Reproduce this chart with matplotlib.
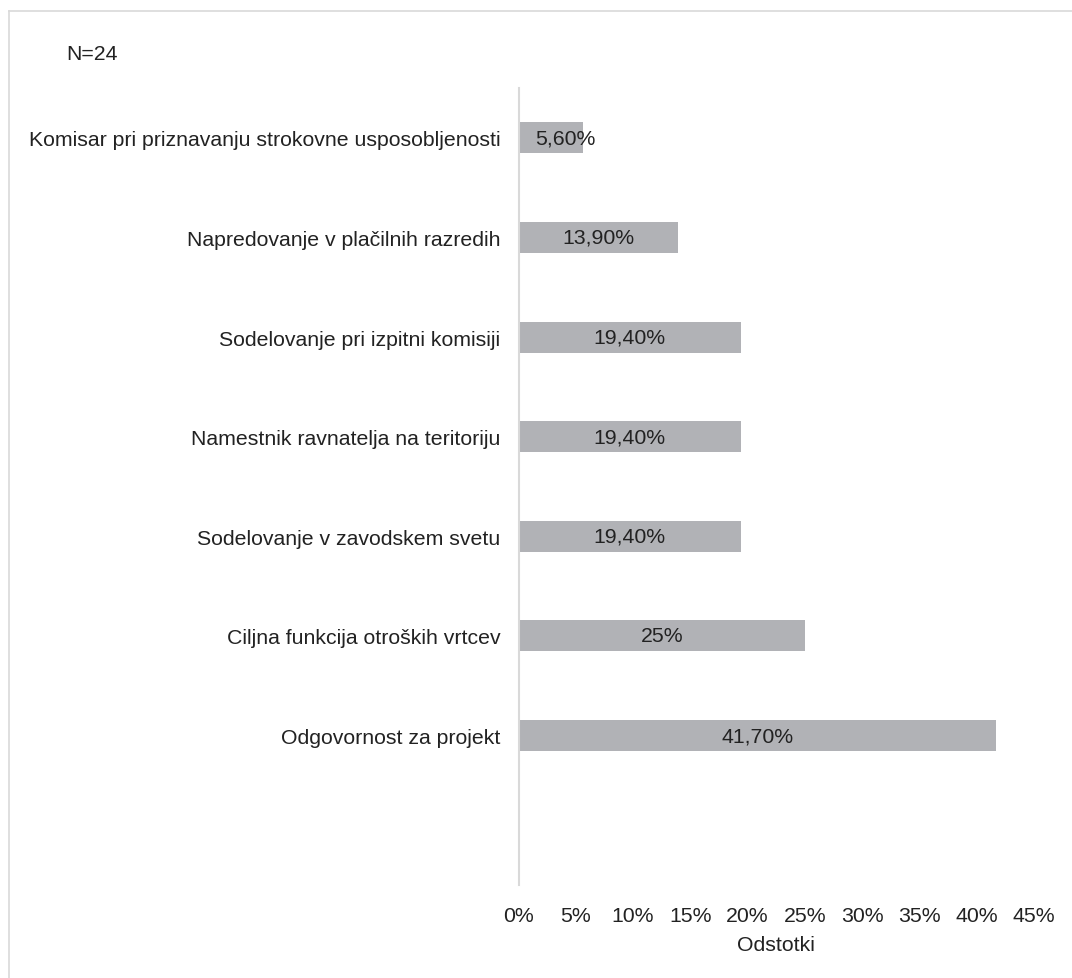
import matplotlib
matplotlib.use("Agg")
import matplotlib.pyplot as plt
from matplotlib.lines import Line2D

plt.rcParams['font.family'] = ['Liberation Sans', 'DejaVu Sans']

categories = [
    "Komisar pri priznavanju strokovne usposobljenosti",
    "Napredovanje v plačilnih razredih",
    "Sodelovanje pri izpitni komisiji",
    "Namestnik ravnatelja na teritoriju",
    "Sodelovanje v zavodskem svetu",
    "Ciljna funkcija otroških vrtcev",
    "Odgovornost za projekt",
]
values = [5.6, 13.9, 19.4, 19.4, 19.4, 25.0, 41.7]
value_labels = ["5,60%", "13,90%", "19,40%", "19,40%", "19,40%", "25%", "41,70%"]
x_ticks = [0, 5, 10, 15, 20, 25, 30, 35, 40, 45]
x_tick_labels = [f"{t}%" for t in x_ticks]

W, H = 1072, 979
FS = 15.3
fig = plt.figure(figsize=(W / 100, H / 100), dpi=100)
ax = fig.add_axes([518.5 / W, 1 - 886 / H, (1034 - 518.5) / W, (886 - 89) / H])

text_color = "#222222"
bar_color = "#b1b2b6"
line_color = "#d9d9d9"

ypos = list(range(len(categories)))
ax.barh(ypos, values, height=0.31, color=bar_color, zorder=2)

for y, v, lab in zip(ypos, values, value_labels):
    if v < 8:
        ax.annotate(lab, xy=(0, y), xytext=(12, 0), textcoords="offset points",
                    ha="left", va="center", fontsize=FS, color=text_color, zorder=3)
    else:
        ax.text(v / 2, y, lab, ha="center", va="center", fontsize=FS,
                color=text_color, zorder=3)

ax.set_xlim(0, 45)
ax.set_ylim(7.5, -0.5)
ax.set_yticks(ypos)
ax.set_yticklabels(categories, fontsize=FS, color=text_color)
ax.set_xticks(x_ticks)
ax.set_xticklabels(x_tick_labels, fontsize=FS, color=text_color)
ax.tick_params(axis="both", length=0)
ax.tick_params(axis="y", pad=13)
ax.tick_params(axis="x", pad=15)
ax.set_xlabel("Odstotki", fontsize=FS, color=text_color, labelpad=7)

for s in ("top", "right", "bottom"):
    ax.spines[s].set_visible(False)
ax.spines["left"].set_color(line_color)
ax.spines["left"].set_linewidth(1.5)

fig.text(66 / W, 1 - 54 / H, "N=24", fontsize=FS, color=text_color,
         ha="left", va="center")

# outer chart frame
fig.add_artist(Line2D([8.5 / W, 8.5 / W], [1 - 11.5 / H, 0], transform=fig.transFigure,
                      color=line_color, linewidth=1.2))
fig.add_artist(Line2D([8.5 / W, 1], [1 - 11.5 / H, 1 - 11.5 / H], transform=fig.transFigure,
                      color=line_color, linewidth=1.2))

fig.savefig("out.png", dpi=100, facecolor="white")
